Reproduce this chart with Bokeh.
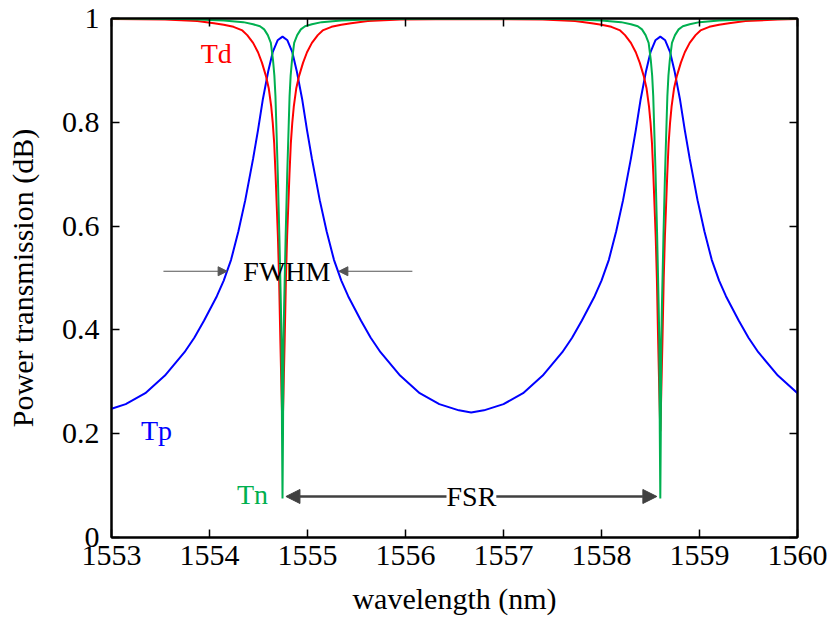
from bokeh.plotting import figure
from bokeh.models import (Range1d, LinearAxis, FixedTicker, CustomJSTickFormatter,
                          Label, Arrow, NormalHead)
from bokeh.embed import file_html
from bokeh.resources import INLINE

# ---------------- data ----------------
tp_wl = [1553.00, 1553.145, 1553.345, 1553.545, 1553.745, 1553.845, 1553.945,
         1554.075, 1554.145, 1554.22, 1554.295, 1554.365, 1554.445, 1554.495,
         1554.545, 1554.60, 1554.645, 1554.695, 1554.745, 1554.795, 1554.845,
         1554.89, 1554.945, 1554.995, 1555.045, 1555.125, 1555.195, 1555.27,
         1555.345, 1555.415, 1555.545, 1555.645, 1555.745, 1555.945, 1556.145,
         1556.345, 1556.545, 1556.67, 1556.80, 1557.00, 1557.20, 1557.40,
         1557.60, 1557.70, 1557.80, 1557.93, 1558.00, 1558.075, 1558.15,
         1558.22, 1558.30, 1558.35, 1558.40, 1558.455, 1558.50, 1558.55,
         1558.60, 1558.65, 1558.70, 1558.745, 1558.80, 1558.85, 1558.90,
         1558.98, 1559.05, 1559.125, 1559.20, 1559.27, 1559.40, 1559.50,
         1559.60, 1559.80, 1560.00]
tp_val = [0.248, 0.257, 0.278, 0.312, 0.357, 0.385, 0.418,
          0.465, 0.495, 0.535, 0.59, 0.65, 0.73, 0.785,
          0.845, 0.899, 0.935, 0.958, 0.965, 0.958, 0.935,
          0.899, 0.845, 0.785, 0.73, 0.65, 0.59, 0.535,
          0.495, 0.465, 0.418, 0.385, 0.357, 0.312, 0.278,
          0.257, 0.245, 0.241, 0.245, 0.257, 0.278, 0.312,
          0.357, 0.385, 0.418, 0.465, 0.495, 0.535, 0.59,
          0.65, 0.73, 0.785, 0.845, 0.899, 0.935, 0.958,
          0.965, 0.958, 0.935, 0.899, 0.845, 0.785, 0.73,
          0.65, 0.59, 0.535, 0.495, 0.465, 0.418, 0.385,
          0.357, 0.312, 0.278]

td_wl = [1553.00, 1553.545, 1553.875, 1554.045, 1554.145, 1554.245, 1554.335,
         1554.385, 1554.445, 1554.495, 1554.535, 1554.575, 1554.605, 1554.630,
         1554.645, 1554.660, 1554.674, 1554.686, 1554.698, 1554.710, 1554.723,
         1554.735, 1554.745, 1554.755, 1554.767, 1554.780, 1554.792, 1554.804,
         1554.816, 1554.830, 1554.845, 1554.860, 1554.885, 1554.915, 1554.955,
         1554.995, 1555.045, 1555.105, 1555.155, 1555.245, 1555.345, 1555.445,
         1555.615, 1555.945, 1556.67, 1557.40, 1557.73, 1557.90, 1558.00,
         1558.10, 1558.19, 1558.24, 1558.30, 1558.35, 1558.39, 1558.43,
         1558.46, 1558.485, 1558.50, 1558.515, 1558.529, 1558.541, 1558.553,
         1558.565, 1558.578, 1558.59, 1558.60, 1558.61, 1558.622, 1558.635,
         1558.647, 1558.659, 1558.671, 1558.685, 1558.70, 1558.715, 1558.74,
         1558.77, 1558.81, 1558.85, 1558.90, 1558.96, 1559.01, 1559.10,
         1559.20, 1559.30, 1559.47, 1559.80, 1560.00]
td_val = [0.999, 0.998, 0.995, 0.991, 0.988, 0.984, 0.977,
          0.968, 0.953, 0.935, 0.915, 0.89, 0.865, 0.83,
          0.80, 0.76, 0.70, 0.64, 0.58, 0.50, 0.38,
          0.28, 0.205, 0.28, 0.38, 0.50, 0.58, 0.64,
          0.70, 0.76, 0.80, 0.83, 0.865, 0.89, 0.915,
          0.935, 0.953, 0.968, 0.977, 0.984, 0.988, 0.991,
          0.995, 0.998, 0.999, 0.998, 0.995, 0.991, 0.988,
          0.984, 0.977, 0.968, 0.953, 0.935, 0.915, 0.89,
          0.865, 0.83, 0.80, 0.76, 0.70, 0.64, 0.58,
          0.50, 0.38, 0.28, 0.205, 0.28, 0.38, 0.50,
          0.58, 0.64, 0.70, 0.76, 0.80, 0.83, 0.865,
          0.89, 0.915, 0.935, 0.953, 0.968, 0.977, 0.984,
          0.988, 0.991, 0.995, 0.998, 0.999]

tn_wl = [1553.00, 1553.745, 1554.145, 1554.345, 1554.445, 1554.515, 1554.558,
         1554.595, 1554.626, 1554.648, 1554.662, 1554.673, 1554.681, 1554.689,
         1554.697, 1554.705, 1554.713, 1554.721, 1554.728, 1554.735, 1554.740,
         1554.745, 1554.750, 1554.755, 1554.762, 1554.769, 1554.777, 1554.785,
         1554.793, 1554.801, 1554.809, 1554.817, 1554.828, 1554.842, 1554.864,
         1554.895, 1554.932, 1554.975, 1555.045, 1555.145, 1555.345, 1555.745,
         1556.67, 1557.60, 1558.00, 1558.20, 1558.30, 1558.37, 1558.413,
         1558.45, 1558.481, 1558.503, 1558.517, 1558.528, 1558.536, 1558.544,
         1558.552, 1558.56, 1558.568, 1558.576, 1558.583, 1558.59, 1558.595,
         1558.60, 1558.605, 1558.61, 1558.617, 1558.624, 1558.632, 1558.64,
         1558.648, 1558.656, 1558.664, 1558.672, 1558.683, 1558.697, 1558.719,
         1558.75, 1558.787, 1558.83, 1558.90, 1559.00, 1559.20, 1559.60,
         1560.00]
tn_val = [1.0, 0.999, 0.996, 0.993, 0.989, 0.985, 0.979,
          0.968, 0.953, 0.92, 0.89, 0.85, 0.80, 0.75,
          0.70, 0.64, 0.58, 0.51, 0.45, 0.38, 0.20,
          0.075, 0.20, 0.38, 0.45, 0.51, 0.58, 0.64,
          0.70, 0.75, 0.80, 0.85, 0.89, 0.92, 0.953,
          0.968, 0.979, 0.985, 0.989, 0.993, 0.996, 0.999,
          1.0, 0.999, 0.996, 0.993, 0.989, 0.985, 0.979,
          0.968, 0.953, 0.92, 0.89, 0.85, 0.80, 0.75,
          0.70, 0.64, 0.58, 0.51, 0.45, 0.38, 0.20,
          0.075, 0.20, 0.38, 0.45, 0.51, 0.58, 0.64,
          0.70, 0.75, 0.80, 0.85, 0.89, 0.92, 0.953,
          0.968, 0.979, 0.985, 0.989, 0.993, 0.996, 0.999,
          1.0]

x_ticks = [1553, 1554, 1555, 1556, 1557, 1558, 1559, 1560]
y_ticks = [0, 0.2, 0.4, 0.6, 0.8, 1.0]

# annotation positions (data units)
fsr_start, fsr_end, fsr_y = 1554.78, 1558.565, 0.079
fwhm_y = 0.513
fwhm_left = (1553.53, 1554.18)
fwhm_right = (1556.07, 1555.32)

BLUE = "#0000ff"
RED = "#ff0000"
GREEN = "#00b050"
ARROW = "#404040"
SERIF = "'Liberation Serif', 'Times New Roman', Times, serif"

p = figure(width=832, height=622, output_backend="svg", toolbar_location=None,
           x_range=Range1d(1553, 1560), y_range=Range1d(0, 1),
           min_border_left=111, min_border_right=35, min_border_top=18,
           min_border_bottom=85, background_fill_color="white",
           border_fill_color="white")
p.grid.visible = False
p.outline_line_color = "black"
p.outline_line_width = 2

p.line(tp_wl, tp_val, line_color=BLUE, line_width=2)
p.line(td_wl, td_val, line_color=RED, line_width=2)
p.line(tn_wl, tn_val, line_color=GREEN, line_width=2)

xfmt = CustomJSTickFormatter(code="return tick.toFixed(0);")
yfmt = CustomJSTickFormatter(code="if (Math.abs(tick) < 1e-9) return '0'; if (Math.abs(tick-1) < 1e-9) return '1'; return tick.toFixed(1);")
blank = CustomJSTickFormatter(code="return '';")

for ax in p.xaxis:
    ax.ticker = FixedTicker(ticks=x_ticks)
    ax.formatter = xfmt
    ax.axis_label = "wavelength (nm)"
    ax.major_label_standoff = 8
    ax.axis_label_standoff = 14
for ax in p.yaxis:
    ax.ticker = FixedTicker(ticks=y_ticks)
    ax.formatter = yfmt
    ax.axis_label = "Power transmission (dB)"
    ax.major_label_standoff = 12
    ax.axis_label_standoff = 20

for ax in list(p.xaxis) + list(p.yaxis):
    ax.minor_tick_line_color = None
    ax.major_tick_in = 8
    ax.major_tick_out = 0
    ax.major_tick_line_width = 1.5
    ax.axis_line_width = 2
    ax.major_label_text_font = SERIF
    ax.major_label_text_font_size = "30px"
    ax.major_label_text_color = "black"
    ax.axis_label_text_font = SERIF
    ax.axis_label_text_font_size = "30px"
    ax.axis_label_text_font_style = "normal"
    ax.axis_label_text_color = "black"

top = LinearAxis(ticker=FixedTicker(ticks=x_ticks), formatter=blank,
                 major_tick_in=8, major_tick_out=0, minor_tick_line_color=None,
                 axis_line_width=2, major_tick_line_width=1.5, major_label_standoff=0)
right = LinearAxis(ticker=FixedTicker(ticks=y_ticks), formatter=blank,
                   major_tick_in=8, major_tick_out=0, minor_tick_line_color=None,
                   axis_line_width=2, major_tick_line_width=1.5, major_label_standoff=0)
p.add_layout(top, "above")
p.add_layout(right, "right")

# FSR arrow
p.add_layout(Arrow(start=NormalHead(size=14, fill_color=ARROW, line_color=ARROW),
                   end=NormalHead(size=14, fill_color=ARROW, line_color=ARROW),
                   x_start=fsr_start, y_start=fsr_y, x_end=fsr_end, y_end=fsr_y,
                   line_color=ARROW, line_width=2.5))
p.add_layout(Label(x=(fsr_start + fsr_end) / 2, y=fsr_y, text="FSR",
                   text_align="center", text_baseline="middle",
                   text_font=SERIF, text_font_size="28px", text_color="black",
                   background_fill_color="white", padding=0))

# FWHM arrows
for (xs, xe) in (fwhm_left, fwhm_right):
    p.add_layout(Arrow(end=NormalHead(size=9, fill_color="#555555", line_color="#555555"),
                       x_start=xs, y_start=fwhm_y, x_end=xe, y_end=fwhm_y,
                       line_color="#555555", line_width=1.2))
p.add_layout(Label(x=1554.79, y=fwhm_y, text="FWHM", text_align="center",
                   text_baseline="middle", text_font=SERIF, text_font_size="28px",
                   text_color="black"))

# curve names
p.add_layout(Label(x=1553.91, y=0.932, text="Td", text_baseline="alphabetic",
                   text_font=SERIF, text_font_size="28px", text_color=RED))
p.add_layout(Label(x=1553.30, y=0.207, text="Tp", text_baseline="alphabetic",
                   text_font=SERIF, text_font_size="28px", text_color=BLUE))
p.add_layout(Label(x=1554.28, y=0.083, text="Tn", text_baseline="alphabetic",
                   text_font=SERIF, text_font_size="28px", text_color=GREEN))

open("out.html", "w").write(file_html(p, INLINE))
